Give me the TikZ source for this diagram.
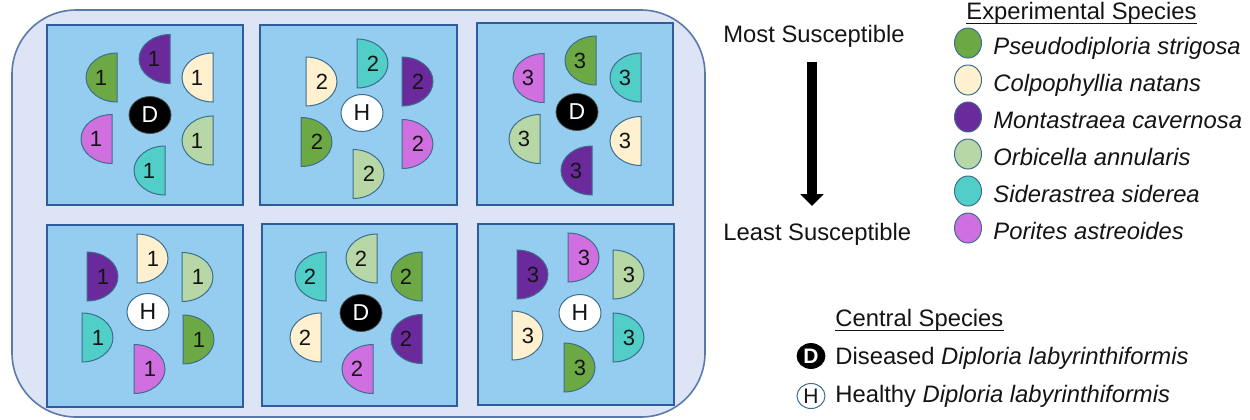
\documentclass[tikz,border=0pt]{standalone}
\usepackage{fontspec}
\setmainfont{Liberation Sans}
\usetikzlibrary{arrows.meta,shapes.geometric}
\definecolor{outerfill}{HTML}{DCE4F5}
\definecolor{outerdraw}{HTML}{5B79AB}
\definecolor{tankfill}{HTML}{94CDF0}
\definecolor{tankdraw}{HTML}{2F5C9B}
\definecolor{cPs}{HTML}{6CA844}
\definecolor{cCn}{HTML}{FFF1CF}
\definecolor{cMc}{HTML}{6A2A9C}
\definecolor{cOa}{HTML}{B7D8A6}
\definecolor{cSs}{HTML}{52CEC8}
\definecolor{cPa}{HTML}{D070E0}
\definecolor{discdraw}{HTML}{3D6E8E}
\definecolor{txt}{HTML}{141414}
\tikzset{
  tank/.style={draw=tankdraw, fill=tankfill, line width=1.2pt},
  disc/.style={draw=discdraw, line width=0.5pt},
  num/.style={inner sep=0pt, text=txt, font=\fontsize{11}{13}\selectfont},
  dcent/.style={ellipse, fill=black, draw=black!70, line width=0.4pt, minimum width=21pt, minimum height=18.5pt, inner sep=0pt, text=white, font=\fontsize{11.5}{13}\selectfont},
  hcent/.style={ellipse, fill=white, draw=discdraw, line width=0.5pt, minimum width=21pt, minimum height=18.5pt, inner sep=0pt, text=txt, font=\fontsize{11.5}{13}\selectfont},
  lab/.style={anchor=base west, inner sep=0pt, text=txt, font=\fontsize{11.9}{14}\selectfont},
  legdot/.style={ellipse, draw=discdraw, line width=0.5pt, minimum width=13.5pt, minimum height=15pt, inner sep=0pt},
  uline/.style={draw=txt, line width=0.7pt},
}
% name, flat x, center y, direction (-1 arc left, 1 arc right), colour, number
\newcommand\hdisc[6]{%
  \pgfmathsetmacro\hdA{#2+(#4)*31}%
  \pgfmathsetmacro\hdK{#2+(#4)*17.1}%
  \pgfmathsetmacro\hdL{#2+(#4)*16}%
  \filldraw[disc, fill=#5] (#2,#3-24.5) .. controls (\hdK,#3-24.5) and (\hdA,#3-13.5) .. (\hdA,#3)
     .. controls (\hdA,#3+13.5) and (\hdK,#3+24.5) .. (#2,#3+24.5) -- cycle;
  \node[num] (#1) at (\hdL,#3) {#6};
}
\begin{document}
\begin{tikzpicture}[x=0.5pt,y=-0.5pt]
\useasboundingbox (0,0) rectangle (1250,419);
% outer container
\draw[draw=outerdraw, fill=outerfill, line width=0.8pt, rounded corners=32pt] (12,10) rectangle (705,417);
% tanks
\draw[tank] (47,25) rectangle (243,205);
\draw[tank] (260,25) rectangle (457,205);
\draw[tank] (477,23) rectangle (673,205);
\draw[tank] (47,225) rectangle (243,407);
\draw[tank] (262,224) rectangle (457,406);
\draw[tank] (478,224) rectangle (674,405);
% tank 1
\hdisc{a1}{117}{77.5}{-1}{cPs}{1}
\hdisc{a2}{170}{59}{-1}{cMc}{1}
\hdisc{a3}{213}{77.5}{-1}{cCn}{1}
\hdisc{a4}{112}{139}{-1}{cPa}{1}
\hdisc{a5}{213}{140.5}{-1}{cOa}{1}
\hdisc{a6}{165}{170.5}{-1}{cSs}{1}
\node[dcent] (ca) at (150,115) {D};
% tank 2
\hdisc{b1}{306}{81.5}{1}{cCn}{2}
\hdisc{b2}{357}{63.5}{1}{cSs}{2}
\hdisc{b3}{402}{81.5}{1}{cMc}{2}
\hdisc{b4}{301}{142}{1}{cPs}{2}
\hdisc{b5}{402}{144}{1}{cPa}{2}
\hdisc{b6}{353}{174}{1}{cOa}{2}
\node[hcent] (cb) at (362,113) {H};
% tank 3
\hdisc{c1}{544}{78}{-1}{cPa}{3}
\hdisc{c2}{596}{60.5}{-1}{cPs}{3}
\hdisc{c3}{641}{77.5}{-1}{cSs}{3}
\hdisc{c4}{540}{139}{-1}{cOa}{3}
\hdisc{c5}{641}{141}{-1}{cCn}{3}
\hdisc{c6}{592}{170.5}{-1}{cMc}{3}
\node[dcent] (cc) at (577,112) {D};
% tank 4
\hdisc{d1}{87}{276.5}{1}{cMc}{1}
\hdisc{d2}{137}{258.5}{1}{cCn}{1}
\hdisc{d3}{182}{277}{1}{cOa}{1}
\hdisc{d4}{82}{337.5}{1}{cSs}{1}
\hdisc{d5}{183}{339.5}{1}{cPs}{1}
\hdisc{d6}{134}{369}{1}{cPa}{1}
\node[hcent] (cd) at (148,312) {H};
% tank 5
\hdisc{e1}{326}{276.5}{-1}{cSs}{2}
\hdisc{e2}{377}{258.5}{-1}{cOa}{2}
\hdisc{e3}{422}{276.5}{-1}{cPs}{2}
\hdisc{e4}{321}{337.5}{-1}{cCn}{2}
\hdisc{e5}{422}{339}{-1}{cMc}{2}
\hdisc{e6}{373}{369}{-1}{cPa}{2}
\node[dcent] (ce) at (361,313) {D};
% tank 6
\hdisc{f1}{517}{274.5}{1}{cMc}{3}
\hdisc{f2}{568}{257.5}{1}{cPa}{3}
\hdisc{f3}{613}{274.5}{1}{cOa}{3}
\hdisc{f4}{512}{335.5}{1}{cCn}{3}
\hdisc{f5}{613}{337.5}{1}{cSs}{3}
\hdisc{f6}{564}{367.5}{1}{cPs}{3}
\node[hcent] (cf) at (580,313) {H};
% susceptibility scale
\node[lab] (most) at (723,42) {Most Susceptible};
\node[lab] (least) at (723,240) {Least Susceptible};
\coordinate (arrtop) at (812,62);
\coordinate (arrbot) at (812,206);
\draw[line width=5pt, -{Triangle[width=11.5pt,length=6pt]}] (arrtop) -- (arrbot);
% experimental species legend
\node[lab] (exp) at (966,19) {Experimental Species};
\draw[uline] (exp.base west) ++(0,4.5) coordinate (ex1) -- (ex1 -| exp.east);
\node[legdot, fill=cPs] (l1) at (968,43) {};
\node[legdot, fill=cCn] (l2) at (968,80) {};
\node[legdot, fill=cMc] (l3) at (968,117) {};
\node[legdot, fill=cOa] (l4) at (968,154) {};
\node[legdot, fill=cSs] (l5) at (968,191) {};
\node[legdot, fill=cPa] (l6) at (968,228) {};
\node[lab] (s1) at (993,54) {\itshape Pseudodiploria strigosa};
\node[lab] (s2) at (993,91) {\itshape Colpophyllia natans};
\node[lab] (s3) at (993,128) {\itshape Montastraea cavernosa};
\node[lab] (s4) at (993,165) {\itshape Orbicella annularis};
\node[lab] (s5) at (993,202) {\itshape Siderastrea siderea};
\node[lab] (s6) at (993,239) {\itshape Porites astreoides};
% central species legend
\node[lab] (cen) at (835,326) {Central Species};
\draw[uline] (cen.base west) ++(0,4.5) coordinate (ce1) -- (ce1 -| cen.east);
\node[ellipse, fill=black, draw=black, minimum width=14pt, minimum height=12.5pt, inner sep=0pt, text=white, font=\fontsize{10.5}{12}\selectfont\bfseries] (ld) at (811,356) {D};
\node[ellipse, fill=white, draw=discdraw, line width=0.5pt, minimum width=14pt, minimum height=12.5pt, inner sep=0pt, text=txt, font=\fontsize{10.5}{12}\selectfont] (lh) at (811,396) {H};
\node[lab] (dis) at (835,364) {Diseased \itshape Diploria labyrinthiformis};
\node[lab] (hea) at (835,402) {Healthy \itshape Diploria labyrinthiformis};
\end{tikzpicture}
\end{document}
